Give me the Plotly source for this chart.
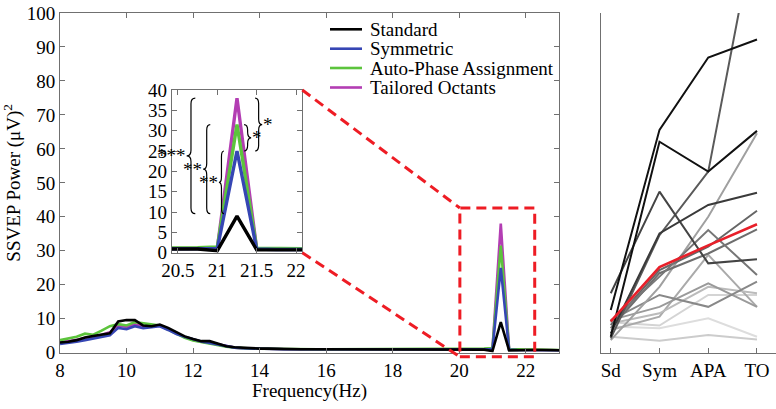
import plotly.graph_objects as go

# ---------------- data ----------------
freq = [8.0 + 0.25 * i for i in range(61)]  # 8 .. 23 Hz, 0.25 Hz bins

standard = [3.0, 3.2, 3.7, 4.5, 4.9, 5.4, 5.7, 9.2, 9.6, 9.6, 8.0, 7.8, 8.3, 7.3, 6.0, 4.8,
            4.0, 3.4, 3.4, 2.7, 1.9, 1.6, 1.4, 1.3, 1.2, 1.2, 1.1, 1.1, 1.1, 1.0, 1.0, 1.0,
            1.0, 1.0, 0.9, 0.9, 0.9, 0.9, 0.9, 0.9, 0.9, 0.9, 0.9, 0.9, 0.9, 0.9, 0.9, 0.9,
            0.9, 0.9, 0.9, 0.9, 0.5, 9.0, 0.7, 0.8, 0.8, 0.8, 0.8, 0.8, 0.7]
symmetric = [2.6, 2.8, 3.2, 3.7, 4.2, 4.6, 5.1, 7.3, 6.9, 7.8, 7.2, 7.5, 7.8, 6.7, 5.5, 4.7,
             3.9, 3.3, 2.9, 2.4, 1.8, 1.5, 1.3, 1.2, 1.1, 1.1, 1.1, 1.0, 1.0, 1.0, 1.0, 1.0,
             1.0, 0.9, 0.9, 0.9, 0.9, 0.9, 0.9, 0.9, 0.9, 0.9, 0.9, 0.9, 0.9, 0.9, 0.9, 0.9,
             0.9, 0.9, 0.9, 0.9, 1.0, 25.0, 0.9, 0.8, 0.8, 0.8, 0.8, 0.8, 0.7]
auto_phase = [3.7, 4.2, 4.7, 5.6, 5.3, 6.5, 7.8, 8.4, 8.0, 9.0, 8.7, 8.3, 8.0, 6.8, 5.6, 4.4,
              3.6, 3.1, 2.8, 2.3, 1.8, 1.5, 1.3, 1.2, 1.2, 1.1, 1.1, 1.1, 1.1, 1.0, 1.0, 1.0,
              1.0, 1.0, 1.0, 1.0, 1.0, 1.0, 1.0, 1.0, 1.0, 1.0, 1.0, 1.0, 1.0, 1.0, 1.0, 1.0,
              1.1, 1.1, 1.1, 1.2, 1.4, 31.5, 1.1, 0.9, 0.9, 0.9, 0.8, 0.8, 0.8]
tailored = [3.0, 3.3, 3.8, 4.3, 4.7, 5.3, 6.0, 8.0, 7.6, 8.4, 7.6, 7.7, 8.0, 7.0, 5.8, 4.6,
            3.8, 3.2, 2.9, 2.4, 1.8, 1.5, 1.3, 1.2, 1.1, 1.1, 1.1, 1.0, 1.0, 1.0, 1.0, 1.0,
            1.0, 0.9, 0.9, 0.9, 0.9, 0.9, 0.9, 0.9, 0.9, 0.9, 0.9, 0.9, 0.9, 0.9, 0.9, 0.9,
            1.0, 1.0, 1.0, 1.0, 1.1, 38.0, 1.0, 0.9, 0.8, 0.8, 0.8, 0.8, 0.7]

series_names = ["Standard", "Symmetric", "Auto-Phase Assignment", "Tailored Octants"]
series_colors = ["#000000", "#3646b4", "#5cc43c", "#b33db3"]

conditions = ["Sd", "Sym", "APA", "TO"]
subjects = [
    ([12.6, 65.6, 86.9, 92.2], "#111111"),
    ([4.7, 62.1, 53.3, 65.3], "#111111"),
    ([5.7, 35.1, 43.5, 47.1], "#3a3a3a"),
    ([17.5, 47.4, 26.3, 27.5], "#444444"),
    ([4.2, 34.6, 53.3, 128.0], "#5a5a5a"),
    ([9.1, 22.4, 36.1, 22.9], "#777777"),
    ([8.1, 24.3, 31.2, 41.8], "#666666"),
    ([7.2, 23.4, 29.2, 36.3], "#6e6e6e"),
    ([3.7, 19.4, 40.0, 64.6], "#a0a0a0"),
    ([9.6, 17.0, 13.5, 20.9], "#888888"),
    ([9.6, 13.5, 20.4, 13.5], "#9a9a9a"),
    ([8.6, 11.6, 19.4, 17.5], "#bbbbbb"),
    ([6.7, 10.6, 28.8, 13.5], "#aaaaaa"),
    ([7.7, 7.2, 10.1, 4.7], "#dddddd"),
    ([4.7, 3.5, 5.2, 3.9], "#cccccc"),
    ([9.0, 8.0, 17.0, 17.0], "#d4d4d4"),
]
mean_values = [9.2, 25.2, 31.6, 37.8]

# ---------------- layout geometry ----------------
W, H = 776, 409
OFF = 0  # page body margin removed in post_script
FONT = "Liberation Serif, Times New Roman, serif"


def fx(p):
    return (p - OFF) / W


def fy(p):
    return 1 - (p - OFF) / H


main_xd = [fx(60), fx(559)]
main_yd = [fy(352.7), fy(13)]
main_xr = [8, 23]
main_yr = [0, 100]
ins_xd = [fx(171.7), fx(302.3)]
ins_yd = [fy(252.7), fy(90)]
ins_xr = [20.42, 22.08]
ins_yr = [0, 40]
rp_xd = [fx(601), fx(776)]
rp_xr = [-0.2, 3.39]


def to_paper(x, y, xd, yd, xr, yr):
    px = xd[0] + (x - xr[0]) / (xr[1] - xr[0]) * (xd[1] - xd[0])
    py = yd[0] + (y - yr[0]) / (yr[1] - yr[0]) * (yd[1] - yd[0])
    return px, py


fig = go.Figure()

all_series = [standard, symmetric, auto_phase, tailored]
order = [3, 2, 1, 0]
for ax in ["", "2"]:
    for i in order:
        fig.add_trace(go.Scatter(
            x=freq, y=all_series[i], mode="lines", name=series_names[i],
            line=dict(color=series_colors[i], width=2.6 if ax == "" else 3.4),
            xaxis="x" + ax, yaxis="y" + ax, showlegend=False))

# right panel
for vals, col in subjects[::-1]:
    fig.add_trace(go.Scatter(x=[0, 1, 2, 3], y=vals, mode="lines",
                             line=dict(color=col, width=2),
                             xaxis="x3", yaxis="y3", showlegend=False))
fig.add_trace(go.Scatter(x=[0, 1, 2, 3], y=mean_values, mode="lines",
                         line=dict(color="#e8202a", width=2.6),
                         xaxis="x3", yaxis="y3", showlegend=False))

axis_common = dict(showline=True, linecolor="#707070", linewidth=1, ticks="inside",
                   ticklen=5, tickcolor="#707070", showgrid=False, zeroline=False,
                   automargin=False, ticklabeloverflow="allow",
                   tickfont=dict(family=FONT, size=19, color="black"))

fig.update_layout(
    width=W, height=H, margin=dict(l=0, r=0, t=0, b=0, pad=0, autoexpand=False),
    paper_bgcolor="white", plot_bgcolor="white", showlegend=False,
    font=dict(family=FONT, size=19, color="black"),
    xaxis=dict(domain=main_xd, range=main_xr, tickvals=list(range(8, 23, 2)), mirror="ticks",
               title=dict(text="Frequency(Hz)", font=dict(family=FONT, size=19), standoff=4),
               **axis_common),
    yaxis=dict(domain=main_yd, range=main_yr, tickvals=list(range(0, 101, 10)), mirror="ticks",
               title=dict(text="SSVEP Power (\u03bcV)<sup>2</sup>", font=dict(family=FONT, size=19),
                          standoff=2),
               **axis_common),
    xaxis2=dict(domain=ins_xd, range=ins_xr, anchor="y2", tickvals=[20.5, 21, 21.5, 22],
                ticktext=["20.5", "21", "21.5", "22"], mirror="ticks", **axis_common),
    yaxis2=dict(domain=ins_yd, range=ins_yr, anchor="x2", tickvals=list(range(0, 41, 5)),
                mirror="ticks", **axis_common),
    xaxis3=dict(domain=rp_xd, range=rp_xr, anchor="y3", tickvals=[0, 1, 2, 3],
                ticktext=conditions, **axis_common),
    yaxis3=dict(domain=main_yd, range=main_yr, anchor="x3", showline=True, linecolor="#707070",
                linewidth=1, showticklabels=False, ticks="", showgrid=False, zeroline=False,
                automargin=False),
)

# --- zoom rectangle and connectors (red dashed) ---
red = "#ee1c24"
rx0, ry0 = to_paper(20.02, -1.2, main_xd, main_yd, main_xr, main_yr)
rx1, ry1 = to_paper(22.27, 42.6, main_xd, main_yd, main_xr, main_yr)
dash = dict(color=red, width=3, dash="10px,6px")
fig.add_shape(type="rect", xref="paper", yref="paper", x0=rx0, y0=ry0, x1=rx1, y1=ry1, line=dash)
fig.add_shape(type="line", xref="paper", yref="paper", x0=ins_xd[1], y0=ins_yd[1], x1=rx0, y1=ry1, line=dash)
fig.add_shape(type="line", xref="paper", yref="paper", x0=ins_xd[1], y0=ins_yd[0], x1=rx0, y1=ry0, line=dash)

# --- significance braces in inset ---
pk = {n: max(s) for n, s in zip(series_names, all_series)}


def brace(x_end, x_tip, y0, y1, d=1.4):
    xm = (x_end + x_tip) / 2
    ym = (y0 + y1) / 2
    return (f"M {x_end},{y1} Q {xm},{y1} {xm},{y1 - d} L {xm},{ym + d} "
            f"Q {xm},{ym} {x_tip},{ym} Q {xm},{ym} {xm},{ym - d} "
            f"L {xm},{y0 + d} Q {xm},{y0} {x_end},{y0}")


braces = [
    # (x_end, x_tip, low, high, label, side)
    (20.72, 20.61, pk["Standard"], pk["Tailored Octants"], "***", "left"),
    (20.91, 20.82, pk["Standard"], pk["Auto-Phase Assignment"], "**", "left"),
    (21.085, 21.02, pk["Standard"], pk["Symmetric"], "**", "left"),
    (21.34, 21.43, pk["Symmetric"], pk["Auto-Phase Assignment"], "*", "right"),
    (21.48, 21.57, pk["Symmetric"], pk["Tailored Octants"], "*", "right"),
]
for xe, xt, lo, hi, lab, side in braces:
    fig.add_shape(type="path", xref="x2", yref="y2", path=brace(xe, xt, lo, hi),
                  line=dict(color="black", width=1.2))
    fig.add_annotation(x=xt, y=(lo + hi) / 2, xref="x2", yref="y2", text=lab, showarrow=False,
                       xanchor="right" if side == "left" else "left", yanchor="middle",
                       xshift=1 if side == "left" else -1,
                       font=dict(family=FONT, size=19, color="black"))

# --- legend (manual) ---
leg_y = [29.3, 48.7, 68.0, 87.5]
for name, col, yy in zip(series_names, series_colors, leg_y):
    fig.add_shape(type="line", xref="paper", yref="paper", x0=fx(330), x1=fx(362),
                  y0=fy(yy), y1=fy(yy), line=dict(color=col, width=2.6))
    fig.add_annotation(x=fx(368), y=fy(yy), xref="paper", yref="paper", text=name,
                       showarrow=False, xanchor="left", yanchor="middle",
                       font=dict(family=FONT, size=19, color="black"))

fig.write_html("out.html", config={"displayModeBar": False},
               post_script="document.body.style.margin='0';")
